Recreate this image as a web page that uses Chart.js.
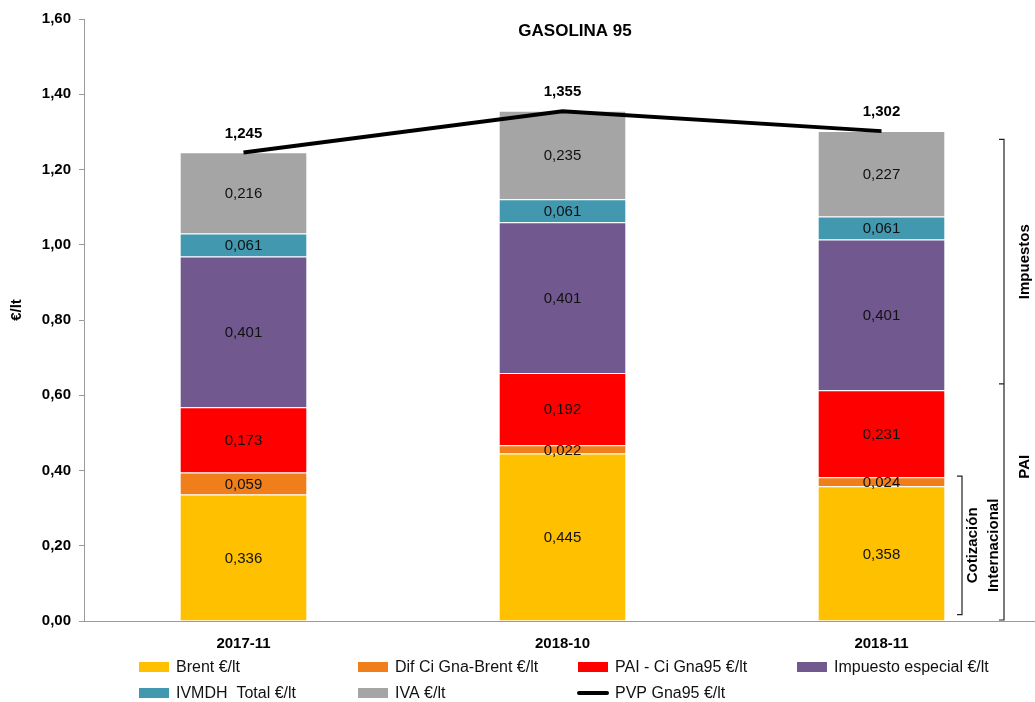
<!DOCTYPE html>
<html>
<head>
<meta charset="utf-8">
<script src="https://cdn.jsdelivr.net/npm/chart.js@4.4.0/dist/chart.umd.min.js"></script>
<style>
  html, body { margin: 0; padding: 0; background: #fff; overflow: hidden; }
  #wrap { position: relative; width: 1041px; height: 702px; }
</style>
</head>
<body>
<div id="wrap"><canvas id="gasChart"></canvas></div>
<script>
  // data
  var meses = ['2017-11', '2018-10', '2018-11'];
  var brent = [0.336, 0.445, 0.358];
  var difCi = [0.059, 0.022, 0.024];
  var pai = [0.173, 0.192, 0.231];
  var impEspecial = [0.401, 0.401, 0.401];
  var ivmdh = [0.061, 0.061, 0.061];
  var iva = [0.216, 0.235, 0.227];
  var pvp = [1.245, 1.355, 1.302];
  var yTicks = [0, 0.2, 0.4, 0.6, 0.8, 1.0, 1.2, 1.4, 1.6];

  function fmt(v, d) {
    return v.toFixed(d).replace('.', ',');
  }

  function barSet(label, data, color) {
    return {
      type: 'bar',
      label: label,
      data: data,
      backgroundColor: color,
      borderColor: 'rgba(255,255,255,0.35)',
      borderWidth: 1,
      stack: 'precio',
      categoryPercentage: 1,
      barPercentage: 0.4,
      order: 2
    };
  }

  var datasets = [
    barSet('Brent €/lt', brent, '#FFC000'),
    barSet('Dif Ci Gna-Brent €/lt', difCi, '#F07F1B'),
    barSet('PAI - Ci Gna95 €/lt', pai, '#FF0000'),
    barSet('Impuesto especial €/lt', impEspecial, '#71588F'),
    barSet('IVMDH  Total €/lt', ivmdh, '#4198AF'),
    barSet('IVA €/lt', iva, '#A5A5A5'),
    {
      type: 'line',
      label: 'PVP Gna95 €/lt',
      data: pvp,
      borderColor: '#000',
      backgroundColor: '#000',
      borderWidth: 4,
      pointRadius: 0,
      tension: 0,
      stack: 'total',
      order: 0
    }
  ];

  // legend grid positions (col x of swatch, row y)
  var legendCols = [139, 358, 578, 797];
  var legendRows = [667, 693];

  var extrasPlugin = {
    id: 'extras',
    afterDatasetsDraw: function(chart) {
      var ctx = chart.ctx;
      ctx.save();
      ctx.textAlign = 'center';
      ctx.textBaseline = 'middle';
      chart.data.datasets.forEach(function(ds, i) {
        var meta = chart.getDatasetMeta(i);
        meta.data.forEach(function(el, j) {
          if (ds.type === 'bar') {
            ctx.font = '15px "Liberation Sans", Arial, sans-serif';
            ctx.fillStyle = '#111';
            ctx.fillText(fmt(ds.data[j], 3), el.x, (el.y + el.base) / 2 + 1);
          } else {
            ctx.font = 'bold 15px "Liberation Sans", Arial, sans-serif';
            ctx.fillStyle = '#000';
            ctx.fillText(fmt(ds.data[j], 3), el.x, el.y - 19);
          }
        });
      });
      ctx.restore();
    },
    afterDraw: function(chart) {
      var ctx = chart.ctx;
      var area = chart.chartArea;
      var y = chart.scales.y;
      ctx.save();

      // title
      ctx.font = 'bold 17px "Liberation Sans", Arial, sans-serif';
      ctx.fillStyle = '#000';
      ctx.textAlign = 'center';
      ctx.textBaseline = 'middle';
      ctx.fillText('GASOLINA 95', 575, 31);

      // brackets on the right
      ctx.strokeStyle = '#222';
      ctx.lineWidth = 1.2;
      var bx = area.right - 37;
      var yTop = y.getPixelForValue(1.28);
      var yMid = y.getPixelForValue(0.63);
      var yBot = y.getPixelForValue(0);
      ctx.beginPath();
      ctx.moveTo(bx - 5, yTop); ctx.lineTo(bx, yTop); ctx.lineTo(bx, yBot - 1); ctx.lineTo(bx - 5, yBot - 1);
      ctx.moveTo(bx - 5, yMid); ctx.lineTo(bx, yMid);
      ctx.stroke();
      var cx = area.right - 79;
      var cTop = y.getPixelForValue(0.385);
      var cBot = y.getPixelForValue(0.017);
      ctx.beginPath();
      ctx.moveTo(cx - 5, cTop); ctx.lineTo(cx, cTop); ctx.lineTo(cx, cBot); ctx.lineTo(cx - 5, cBot);
      ctx.stroke();

      ctx.font = 'bold 15px "Liberation Sans", Arial, sans-serif';
      ctx.fillStyle = '#000';
      function vText(t, x, yy) {
        ctx.save();
        ctx.translate(x, yy);
        ctx.rotate(-Math.PI / 2);
        ctx.fillText(t, 0, 0);
        ctx.restore();
      }
      vText('Impuestos', area.right - 16, (yTop + yMid) / 2);
      vText('PAI', area.right - 16, y.getPixelForValue(0.41));
      vText('Cotización', area.right - 68, (cTop + cBot) / 2);
      vText('Internacional', area.right - 47, (cTop + cBot) / 2);

      // y axis title
      vText('€/lt', 17, 310);

      // legend
      ctx.font = '16px "Liberation Sans", Arial, sans-serif';
      ctx.textAlign = 'left';
      chart.data.datasets.forEach(function(ds, i) {
        var lx = legendCols[i % 4];
        var ly = legendRows[Math.floor(i / 4)];
        if (ds.type === 'line') {
          ctx.strokeStyle = ds.borderColor;
          ctx.lineWidth = 4;
          ctx.lineCap = 'round';
          ctx.beginPath();
          ctx.moveTo(lx + 1, ly); ctx.lineTo(lx + 29, ly);
          ctx.stroke();
        } else {
          ctx.fillStyle = ds.backgroundColor;
          ctx.fillRect(lx, ly - 5, 30, 10);
        }
        ctx.fillStyle = '#111';
        ctx.fillText(ds.label, lx + 37, ly + 1);
      });
      ctx.restore();
    }
  };

  var gasChart = new Chart(document.getElementById('gasChart'), {
    data: {
      labels: meses,
      datasets: datasets
    },
    plugins: [extrasPlugin],
    options: {
      responsive: true,
      maintainAspectRatio: false,
      animation: false,
      layout: { padding: { top: 19, left: 0, right: 0, bottom: 0 } },
      plugins: {
        legend: { display: false },
        tooltip: { enabled: false }
      },
      scales: {
        x: {
          stacked: true,
          grid: { display: false },
          border: { display: true, color: '#9a9a9a', width: 1 },
          ticks: {
            color: '#000',
            padding: 6,
            font: { family: '"Liberation Sans", Arial, sans-serif', size: 15, weight: 'bold' }
          },
          afterFit: function(scale) { scale.height = 81; }
        },
        y: {
          stacked: true,
          min: 0,
          max: 1.6,
          afterBuildTicks: function(scale) {
            scale.ticks = yTicks.map(function(v) { return { value: v }; });
          },
          grid: { drawOnChartArea: false, drawTicks: true, tickLength: 5, color: '#9a9a9a' },
          border: { display: true, color: '#9a9a9a', width: 1 },
          ticks: {
            color: '#000',
            padding: 8,
            font: { family: '"Liberation Sans", Arial, sans-serif', size: 15, weight: 'bold' },
            callback: function(v) { return fmt(v, 2); }
          },
          afterFit: function(scale) { scale.width = 84; }
        }
      }
    }
  });
</script>
</body>
</html>
